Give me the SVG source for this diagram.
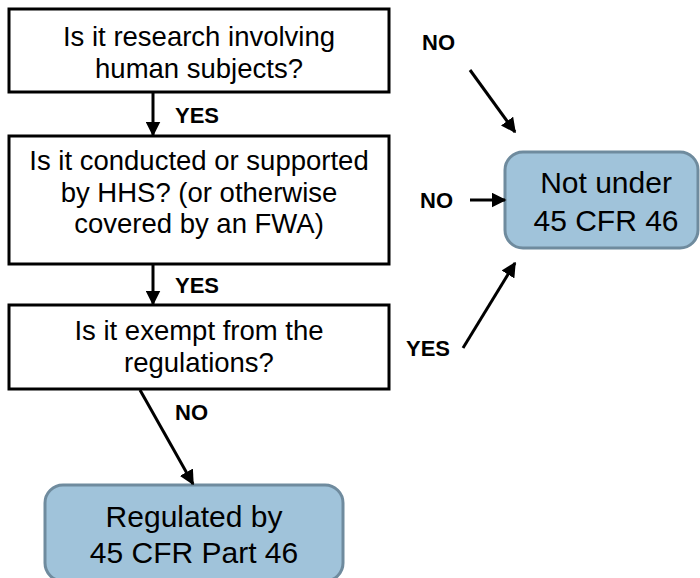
<svg xmlns="http://www.w3.org/2000/svg" width="700" height="578" viewBox="0 0 700 578">
<defs>
<style>
.q{fill:#fff;stroke:#000;stroke-width:3}
.r{fill:#a0c3da;stroke:#6f8b9e;stroke-width:3}
.t{font-family:"Liberation Sans",Arial,sans-serif;font-size:27.5px;fill:#000;text-anchor:middle}
.tb{font-family:"Liberation Sans",Arial,sans-serif;font-size:30px;fill:#000;text-anchor:middle}
.l{font-family:"Liberation Sans",Arial,sans-serif;font-size:22px;font-weight:bold;fill:#000}
.c{stroke:#000;stroke-width:3;fill:none;marker-end:url(#ah)}
</style>
<marker id="ah" markerWidth="5" markerHeight="5" refX="4.5" refY="2.5" orient="auto" markerUnits="strokeWidth">
<path d="M0,0 L5,2.5 L0,5 Z" fill="#000"/>
</marker>
</defs>
<g id="q1"><rect class="q" x="9" y="9" width="380" height="83"/>
<text class="t" x="199" y="46">Is it research involving</text>
<text class="t" x="199" y="78">human subjects?</text></g>
<g id="q2"><rect class="q" x="9" y="136" width="380" height="128"/>
<text class="t" x="199" y="170">Is it conducted or supported</text>
<text class="t" x="199" y="202">by HHS? (or otherwise</text>
<text class="t" x="199" y="233">covered by an FWA)</text></g>
<g id="q3"><rect class="q" x="9" y="305" width="380" height="84"/>
<text class="t" x="199" y="340">Is it exempt from the</text>
<text class="t" x="199" y="372">regulations?</text></g>
<g id="reg"><rect class="r" x="45" y="485" width="298" height="96" rx="18"/>
<text class="tb" x="194" y="527">Regulated by</text>
<text class="tb" x="194" y="563">45 CFR Part 46</text></g>
<g id="not"><rect class="r" x="505" y="152" width="193" height="96" rx="18"/>
<text class="tb" x="606" y="193">Not under</text>
<text class="tb" x="606" y="231">45 CFR 46</text></g>
<g id="connectors">
<line class="c" x1="153" y1="92" x2="153" y2="135"/>
<line class="c" x1="153" y1="264" x2="153" y2="304"/>
<line class="c" x1="140" y1="390" x2="193" y2="484"/>
<line class="c" x1="470" y1="70" x2="515" y2="132"/>
<line class="c" x1="470" y1="200" x2="505" y2="200"/>
<line class="c" x1="463" y1="348" x2="515" y2="263"/>
<text class="l" x="175" y="123">YES</text>
<text class="l" x="175" y="293">YES</text>
<text class="l" x="175" y="420">NO</text>
<text class="l" x="422" y="50">NO</text>
<text class="l" x="420" y="208">NO</text>
<text class="l" x="406" y="356">YES</text>
</g>
</svg>
